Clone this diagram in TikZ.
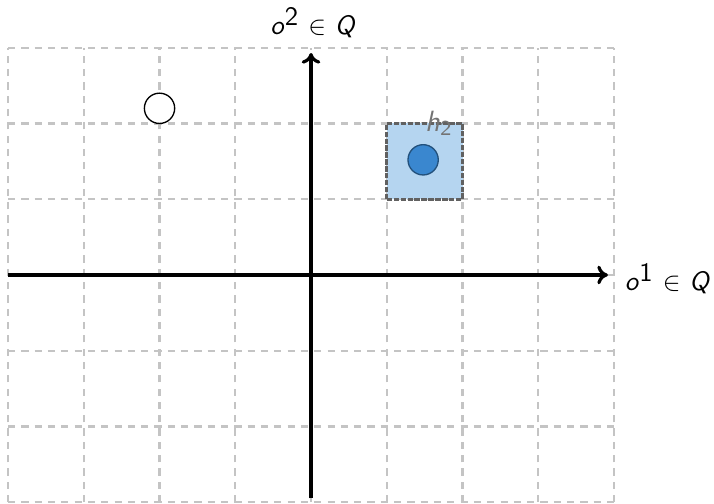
\documentclass[tikz,border=0pt]{standalone}
\usetikzlibrary{arrows.meta}
\definecolor{gridgray}{HTML}{C4C4C4}
\definecolor{boxfill}{HTML}{B5D5F0}
\definecolor{dotblue}{HTML}{3A87CF}
\begin{document}
\begin{tikzpicture}[x=1cm,y=1cm,
  gridline/.style={draw=gridgray, line width=0.8pt, dash pattern=on 2.7pt off 2.3pt},
  axis/.style={draw=black, line width=1.2pt, -{To[length=4pt,width=7pt,line width=1.2pt]}},
  axlabel/.style={font=\fontsize{10}{12}\selectfont\sffamily, inner sep=1pt},
  hbox/.style={fill=boxfill, draw=black!62, line width=1pt, dash pattern=on 2pt off 0.6pt},
  dot/.style={circle, minimum size=0.4cm, inner sep=0pt, line width=0.5pt}
]
\useasboundingbox (-4.106,-3.02) rectangle (5.32,3.63);
% grid
\foreach \x in {-4,...,4} \draw[gridline] (\x,-3) -- (\x,3);
\foreach \y in {-3,...,3} \draw[gridline] (-4,\y) -- (4,\y);
% box
\path[hbox] (1,1) rectangle (2,2);
\node[dot, draw=dotblue!60!black, fill=dotblue] (p) at (1.48,1.52) {};
\node[font=\fontsize{11}{13}\selectfont\sffamily, text=black!55, anchor=base west, inner sep=0pt] (h2) at (1.5,1.9) {\textit{h}$_{\mathsf{2}}$};
% open circle
\node[dot, draw=black, fill=white] (c) at (-2,2.2) {};
% axes
\coordinate (xl) at (-4,0);
\coordinate (xr) at (3.92,0);
\coordinate (yb) at (0,-2.95);
\coordinate (yt) at (0,2.93);
\draw[axis] (xl) -- (xr);
\draw[axis] (yb) -- (yt);
\node[axlabel, anchor=west] (lx) at (4.1,-0.05) {\textit{o}$^{\textsf{1}}$ $\in$ \textit{Q}};
\node[axlabel] (ly) at (0.03,3.33) {\textit{o}$^{\textsf{2}}$ $\in$ \textit{Q}};
\end{tikzpicture}
\end{document}
